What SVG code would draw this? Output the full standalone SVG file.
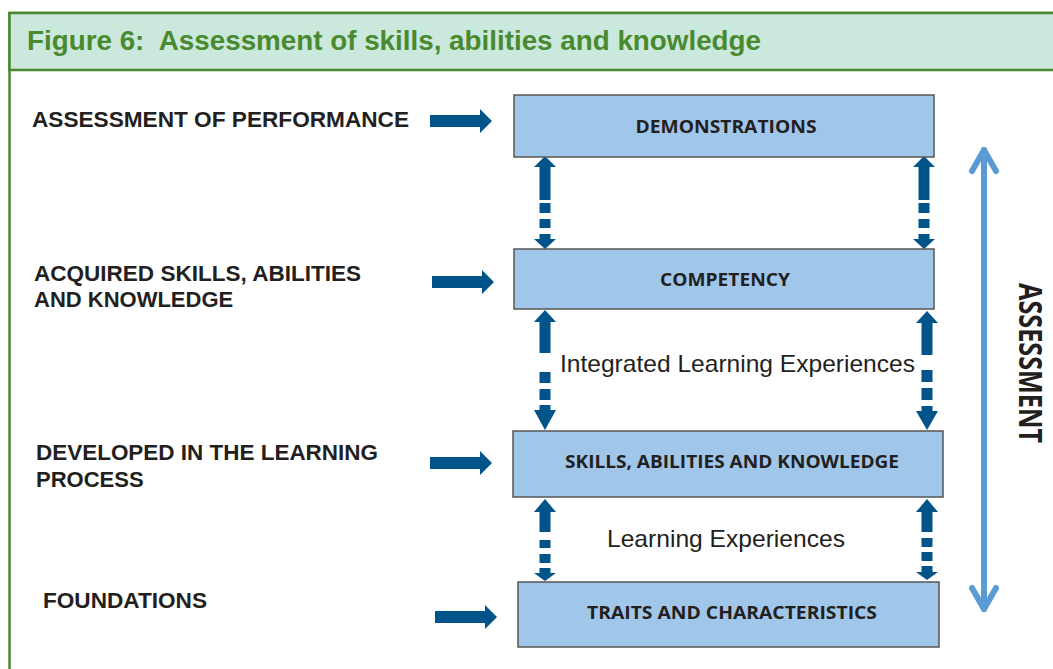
<svg xmlns="http://www.w3.org/2000/svg" width="1053" height="669" viewBox="0 0 1053 669">
<style>
.lbl{font-family:"Liberation Sans",Arial,sans-serif;font-weight:bold;font-size:22px;fill:#231f20}
.box{fill:#a0c6ea;stroke:#555;stroke-width:1.5}
.btx{font-family:"Open Sans","Liberation Sans",sans-serif;font-weight:bold;font-size:18px;fill:#231f20;text-anchor:middle}
.arr{fill:#01548a}
.mid{font-family:"Liberation Sans",Arial,sans-serif;font-size:24px;fill:#231f20}
</style>
<defs>
<path id="harr" d="M0,-6 H50 V-12 L62,0 L50,12 V6 H0 Z"/>
</defs>
<g id="frame">
<rect x="9.5" y="13" width="1100" height="700" fill="#fff" stroke="#4a8a2f" stroke-width="2.5"/>
<rect x="9.5" y="13" width="1100" height="57" fill="#cbe8dc" stroke="#4a8a2f" stroke-width="2.5"/>
<text x="27" y="50" xml:space="preserve" font-family="Liberation Sans, Arial, sans-serif" font-weight="bold" font-size="27.5" fill="#4a8a2f" textLength="734" lengthAdjust="spacingAndGlyphs">Figure 6:  Assessment of skills, abilities and knowledge</text>
</g>
<g id="labels">
<text class="lbl" x="32" y="127" textLength="377" lengthAdjust="spacingAndGlyphs">ASSESSMENT OF PERFORMANCE</text>
<text class="lbl" x="34" y="281" textLength="327" lengthAdjust="spacingAndGlyphs">ACQUIRED SKILLS, ABILITIES</text>
<text class="lbl" x="34" y="307">AND KNOWLEDGE</text>
<text class="lbl" x="36" y="460" textLength="342" lengthAdjust="spacingAndGlyphs">DEVELOPED IN THE LEARNING</text>
<text class="lbl" x="36" y="487">PROCESS</text>
<text class="lbl" x="43" y="608" textLength="164" lengthAdjust="spacingAndGlyphs">FOUNDATIONS</text>
</g>
<g id="connectors">
<use href="#harr" class="arr" x="430" y="121"/>
<use href="#harr" class="arr" x="432" y="282"/>
<use href="#harr" class="arr" x="430" y="463"/>
<use href="#harr" class="arr" x="435" y="617"/>
<!-- box1-box2 -->
<path class="arr" d="M545,156 L556,167 H550.5 V200 H539.5 V167 H534 Z M539.5,203 H550.5 V213 H539.5 Z M539.5,219 H550.5 V228 H539.5 Z M539.5,234 H550.5 V239 H556 L545,249 L534,239 H539.5 Z"/>
<path class="arr" d="M924,156 L935,167 H929.5 V200 H918.5 V167 H913 Z M918.5,203 H929.5 V213 H918.5 Z M918.5,219 H929.5 V228 H918.5 Z M918.5,234 H929.5 V239 H935 L924,249 L913,239 H918.5 Z"/>
<!-- box2-box3 -->
<path class="arr" d="M545,310 L556,322 H550.5 V353 H539.5 V322 H534 Z M539.5,372 H550.5 V383 H539.5 Z M539.5,389 H550.5 V400 H539.5 Z M539.5,405 H550.5 V410 H556 L545,430 L534,410 H539.5 Z"/>
<path class="arr" d="M927,311 L938,323 H932.5 V355 H921.5 V323 H916 Z M921.5,370 H932.5 V382 H921.5 Z M921.5,388 H932.5 V400 H921.5 Z M921.5,406 H932.5 V411 H938 L927,430 L916,411 H921.5 Z"/>
<!-- box3-box4 -->
<path class="arr" d="M545,499 L556,512 H550.5 V532 H539.5 V512 H534 Z M539.5,540 H550.5 V548 H539.5 Z M539.5,554 H550.5 V563 H539.5 Z M539.5,568 H550.5 V573 H556 L545,581 L534,573 H539.5 Z"/>
<path class="arr" d="M927,499 L938,512 H932.5 V532 H921.5 V512 H916 Z M921.5,538 H932.5 V547 H921.5 Z M921.5,552 H932.5 V561 H921.5 Z M921.5,566 H932.5 V572 H938 L927,580 L916,572 H921.5 Z"/>
<!-- assessment arrow -->
<g fill="none" stroke="#5b9bd5" stroke-width="6" stroke-linecap="round" stroke-linejoin="round">
<path d="M984,150 V609"/>
<path d="M972,171 L984,150 L996,171"/>
<path d="M972,588 L984,609 L996,588"/>
</g>
</g>
<g id="n-demonstrations">
<rect class="box" x="514" y="95" width="420" height="62"/>
<text class="btx" x="726" y="133" textLength="181" lengthAdjust="spacingAndGlyphs">DEMONSTRATIONS</text>
</g>
<g id="n-competency">
<rect class="box" x="514" y="249" width="420" height="60"/>
<text class="btx" x="725" y="286" textLength="130" lengthAdjust="spacingAndGlyphs">COMPETENCY</text>
</g>
<g id="n-skills">
<rect class="box" x="513" y="431" width="430" height="66"/>
<text class="btx" x="732" y="468" textLength="334" lengthAdjust="spacingAndGlyphs">SKILLS, ABILITIES AND KNOWLEDGE</text>
</g>
<g id="n-traits">
<rect class="box" x="518" y="582" width="421" height="65"/>
<text class="btx" x="732" y="619" textLength="290" lengthAdjust="spacingAndGlyphs">TRAITS AND CHARACTERISTICS</text>
</g>
<g id="mid-labels">
<text class="mid" x="560" y="372" textLength="355" lengthAdjust="spacingAndGlyphs">Integrated Learning Experiences</text>
<text class="mid" x="607" y="547" textLength="238" lengthAdjust="spacingAndGlyphs">Learning Experiences</text>
</g>
<g id="assessment-label">
<text transform="translate(1019,363) rotate(90)" text-anchor="middle" font-family="Open Sans, Liberation Sans, sans-serif" font-weight="bold" font-size="32" fill="#231f20" textLength="160" lengthAdjust="spacingAndGlyphs">ASSESSMENT</text>
</g>
</svg>
